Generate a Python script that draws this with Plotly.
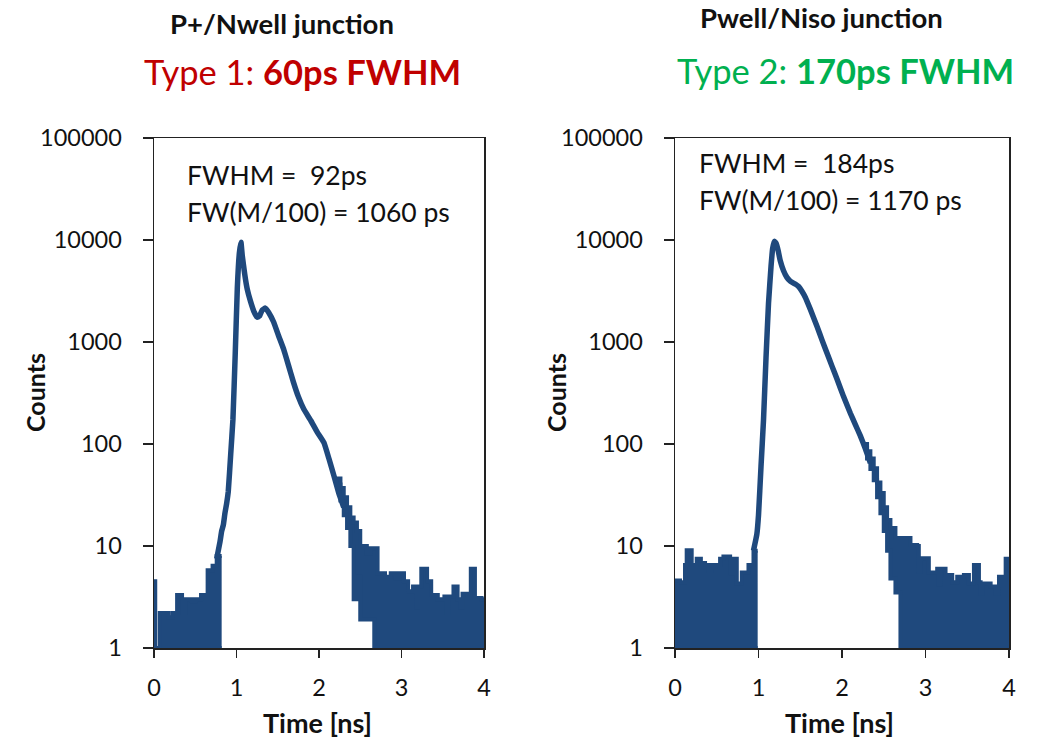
import plotly.graph_objects as go

# ---------------- Data ----------------
# Left panel: P+/Nwell junction
L_pre_t  = [0.00, 0.015, 0.07, 0.17, 0.22, 0.28, 0.34, 0.38, 0.46, 0.50, 0.57, 0.65, 0.71, 0.76, 0.82]
L_pre_hi = [4.5, 1.0, 2.2, 2.0, 2.2, 3.3, 2.2, 3.0, 2.85, 3.0, 3.3, 5.8, 6.4, 8.0, 8.0]
L_pre_lo = [1, 1, 1, 1, 1, 1, 1, 1, 1, 1, 1, 1, 1, 1, 1]

L_peak_t = [0.76, 0.80, 0.82, 0.84, 0.86, 0.88, 0.90, 0.93, 0.957, 0.985, 1.01, 1.035, 1.054,
            1.07, 1.10, 1.13, 1.17, 1.21, 1.25, 1.28, 1.31, 1.35, 1.39, 1.45, 1.51, 1.57,
            1.63, 1.69, 1.75, 1.815, 1.90, 1.98, 2.06, 2.12, 2.18, 2.24, 2.30]
L_peak_c = [7.5, 11, 14, 16, 21, 26, 34, 80, 175, 780, 3400, 7500, 9500,
            7000, 4600, 3300, 2500, 2000, 1750, 1800, 2050, 2150, 1950, 1570, 1150, 855,
            590, 404, 290, 220, 170, 130, 103, 72, 49, 33, 24]

L_tail_t  = [2.20, 2.26, 2.30, 2.34, 2.38, 2.42, 2.46, 2.50, 2.58, 2.62, 2.67, 2.71, 2.80, 2.87,
             2.93, 2.97, 3.03, 3.08, 3.14, 3.18, 3.20, 3.24, 3.31, 3.36, 3.44, 3.52, 3.55,
             3.57, 3.63, 3.68, 3.72, 3.74, 3.80, 3.84, 3.89, 3.97, 4.00]
L_tail_hi = [46, 37, 30, 24, 19, 17, 14, 10, 8.5, 9.5, 9.5, 5.4, 5.0, 5.4,
             4.8, 5.4, 4.5, 3.6, 4.0, 2.5, 4.0, 6.0, 4.5, 3.3, 3.0, 3.2, 2.2,
             3.2, 4.0, 3.0, 2.5, 3.4, 3.3, 6.0, 3.1, 3.0, 3.0]
L_tail_lo = [40, 28, 20, 15, 10, 3.0, 5.0, 1.9, 1.9, 1.9, 1, 1, 1, 1,
             1, 1, 1, 1, 1, 1, 1, 1, 1, 1, 1, 1, 1,
             1, 1, 1, 1, 1, 1, 1, 1, 1, 1]

# Right panel: Pwell/Niso junction
R_pre_t  = [0.00, 0.06, 0.12, 0.14, 0.20, 0.26, 0.31, 0.36, 0.40, 0.44, 0.54, 0.58, 0.66, 0.70,
            0.74, 0.80, 0.88, 0.94, 0.99]
R_pre_hi = [4.6, 4.4, 6.5, 9.1, 6.5, 7.5, 6.8, 6.5, 5.7, 6.5, 7.5, 7.9, 5.4, 7.5,
            4.3, 5.5, 6.5, 9.0, 9.0]
R_pre_lo = [1, 1, 1, 1, 1, 1, 1, 1, 1, 1, 1, 1, 1, 1, 1, 1, 1, 1, 1]

R_peak_t = [0.94, 0.98, 1.00, 1.03, 1.06, 1.09, 1.12, 1.15, 1.17, 1.19, 1.21, 1.235, 1.26,
            1.30, 1.34, 1.38, 1.44, 1.48, 1.52, 1.56, 1.62, 1.70, 1.76, 1.82, 1.88, 1.94,
            2.02, 2.10, 2.16, 2.22, 2.28, 2.34]
R_peak_c = [9, 13, 20, 60, 172, 700, 2400, 5500, 8300, 9700, 9300, 7900, 6300,
            5000, 4300, 3950, 3700, 3500, 3150, 2750, 2100, 1430, 1050, 780, 580, 434,
            290, 200, 155, 120, 90, 65]

R_tail_t  = [2.26, 2.30, 2.34, 2.38, 2.42, 2.46, 2.50, 2.54, 2.58, 2.64, 2.70, 2.82, 2.90,
             2.92, 2.94, 3.04, 3.14, 3.16, 3.18, 3.24, 3.32, 3.38, 3.46, 3.52, 3.58, 3.64,
             3.66, 3.68, 3.78, 3.84, 3.88, 3.96, 4.00]
R_tail_hi = [100, 85, 72, 58, 42, 33, 24, 18, 15, 12, 12, 10.2, 10.0,
             5.6, 7.6, 5.5, 6.0, 4.2, 6.0, 5.2, 4.4, 5.0, 5.2, 4.3, 6.5, 4.4,
             3.4, 4.3, 4.0, 3.4, 5.0, 7.5, 7.5]
R_tail_lo = [92, 72, 57, 44, 30, 21, 14, 9, 4.8, 3.5, 1, 1, 1,
             1, 1, 1, 1, 1, 1, 1, 1, 1, 1, 1, 1, 1,
             1, 1, 1, 1, 1, 1, 1]

y_ticks = [1, 10, 100, 1000, 10000, 100000]
y_tick_text = ["1", "10", "100", "1000", "10000", "100000"]
x_ticks = [0, 1, 2, 3, 4]

LINE = "#1f497d"
FONT = "Lato"

fig = go.Figure()


def add_band(t, hi, lo, xa, ya):
    fig.add_trace(go.Scatter(x=t, y=lo, mode="lines", line=dict(color=LINE, width=4, shape="hv"),
                             xaxis=xa, yaxis=ya, showlegend=False, hoverinfo="skip"))
    fig.add_trace(go.Scatter(x=t, y=hi, mode="lines", line=dict(color=LINE, width=4, shape="hv"),
                             fill="tonexty", fillcolor=LINE,
                             xaxis=xa, yaxis=ya, showlegend=False, hoverinfo="skip"))


add_band(L_pre_t, L_pre_hi, L_pre_lo, "x", "y")
add_band(L_tail_t, L_tail_hi, L_tail_lo, "x", "y")
fig.add_trace(go.Scatter(x=L_peak_t, y=L_peak_c, mode="lines",
                         line=dict(color=LINE, width=5.5, shape="spline", smoothing=0.3),
                         xaxis="x", yaxis="y", showlegend=False))

add_band(R_pre_t, R_pre_hi, R_pre_lo, "x2", "y2")
add_band(R_tail_t, R_tail_hi, R_tail_lo, "x2", "y2")
fig.add_trace(go.Scatter(x=R_peak_t, y=R_peak_c, mode="lines",
                         line=dict(color=LINE, width=5.5, shape="spline", smoothing=0.3),
                         xaxis="x2", yaxis="y2", showlegend=False))

W, H = 1038, 743
def px(x):
    return x / W
def py(y):
    return 1 - y / H

common_x = dict(range=[0, 4], tickvals=x_ticks, showgrid=False, zeroline=False,
                showline=True, linecolor="#222", linewidth=1.5, mirror=True,
                ticks="outside", ticklen=8, tickwidth=1.5, tickcolor="#222",
                ticklabelstandoff=10, automargin=False,
                tickfont=dict(family=FONT, size=23.5, color="#111"))
common_y = dict(type="log", range=[0, 5], tickvals=y_ticks, ticktext=y_tick_text,
                showgrid=False, zeroline=False,
                showline=True, linecolor="#222", linewidth=1.5, mirror=True,
                ticks="outside", ticklen=10, tickwidth=1.5, tickcolor="#222",
                ticklabelstandoff=16, automargin=False,
                tickfont=dict(family=FONT, size=23.5, color="#111"),
                domain=[py(648), py(138)])

fig.update_layout(
    width=W, height=H, autosize=False,
    margin=dict(l=0, r=0, t=0, b=0, pad=0, autoexpand=False),
    paper_bgcolor="white", plot_bgcolor="white",
    showlegend=False,
    xaxis=dict(**common_x, domain=[px(154), px(484)], anchor="y"),
    yaxis=dict(**common_y, anchor="x"),
    xaxis2=dict(**common_x, domain=[px(675), px(1009)], anchor="y2"),
    yaxis2=dict(**common_y, anchor="x2"),
)

ann = []
def text(x, y, s, size, color="#111", xanchor="center", angle=0):
    ann.append(dict(x=px(x), y=py(y), xref="paper", yref="paper", text=s, showarrow=False,
                    xanchor=xanchor, yanchor="middle", textangle=angle,
                    font=dict(family=FONT, size=size, color=color)))

text(282, 24, "<b>P+/Nwell junction</b>", 27.5)
text(302, 72, "Type 1: <b>60ps FWHM</b>", 34.5, "#c00000")
text(821, 18, "<b>Pwell/Niso junction</b>", 27.5)
text(845, 70, "Type 2: <b>170ps FWHM</b>", 34.5, "#00b050")

text(185, 175, "FWHM =  92ps", 26.5, xanchor="left")
text(185, 212, "FW(M/100) = 1060 ps", 26.5, xanchor="left")
text(697, 163, "FWHM =  184ps", 26.5, xanchor="left")
text(697, 200, "FW(M/100) = 1170 ps", 26.5, xanchor="left")

text(317, 722, "<b>Time [ns]</b>", 27)
text(839, 722, "<b>Time [ns]</b>", 27)
text(35, 393, "<b>Counts</b>", 25, angle=-90)
text(556, 393, "<b>Counts</b>", 25, angle=-90)

fig.update_layout(annotations=ann)
fig.write_html("out.html",
               config={"displayModeBar": False, "staticPlot": True},
               post_script="document.body.style.margin='0';document.body.style.overflow='hidden';")
